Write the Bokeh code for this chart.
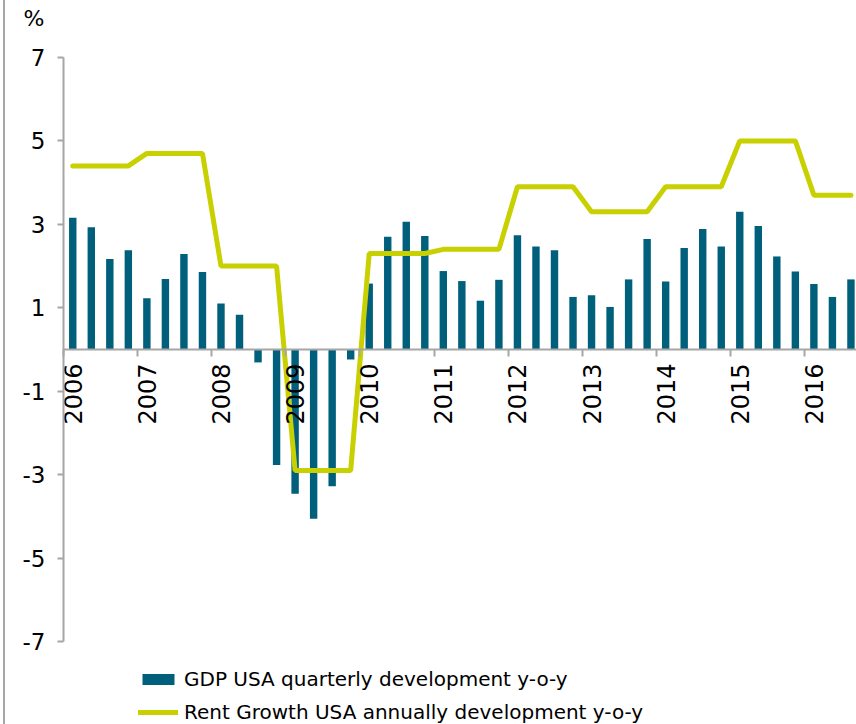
import math
from bokeh.plotting import figure
from bokeh.models import (Range1d, FixedTicker, LinearAxis, Legend, LegendItem)
from bokeh.embed import file_html
from bokeh.resources import INLINE

# ---- data (quarterly, 2006 Q1 .. 2016 Q3) ----
years = ["2006", "2007", "2008", "2009", "2010", "2011",
         "2012", "2013", "2014", "2015", "2016"]
gdp = [3.16, 2.93, 2.17, 2.38,
       1.23, 1.69, 2.29, 1.86,
       1.10, 0.83, -0.31, -2.77,
       -3.46, -4.06, -3.28, -0.24,
       1.58, 2.70, 3.06, 2.72,
       1.88, 1.64, 1.17, 1.67,
       2.74, 2.47, 2.38, 1.26,
       1.30, 1.02, 1.68, 2.65,
       1.63, 2.43, 2.89, 2.47,
       3.30, 2.96, 2.23, 1.87,
       1.57, 1.26, 1.68]
rent = [4.4, 4.4, 4.4, 4.4,
        4.7, 4.7, 4.7, 4.7,
        2.0, 2.0, 2.0, 2.0,
        -2.9, -2.9, -2.9, -2.9,
        2.3, 2.3, 2.3, 2.3,
        2.4, 2.4, 2.4, 2.4,
        3.9, 3.9, 3.9, 3.9,
        3.3, 3.3, 3.3, 3.3,
        3.9, 3.9, 3.9, 3.9,
        5.0, 5.0, 5.0, 5.0,
        3.7, 3.7, 3.7]
y_ticks = [-7, -5, -3, -1, 1, 3, 5, 7]
y_tick_labels = ["-7", "-5", "-3", "-1", "1", "3", "5", "7"]
unit_label = "%"
gdp_label = "GDP USA quarterly development y-o-y"
rent_label = "Rent Growth USA annually development y-o-y"

n = len(gdp)
xq = [i + 0.5 for i in range(n)]
year_starts = [4 * i for i in range(len(years))]
year_label_pos = [4 * i + 0.5 for i in range(len(years))]
unit_pos = 7.93  # where the "%" unit sits, just above the top tick

BAR = "#005f7a"
LINE = "#c8d000"
AXIS = "#a6a6a6"
FONT = "DejaVu Sans"

X_END = 42.8
X_START = -63 / ((856 - 63) / X_END)   # room left of the y axis for its labels

p = figure(width=856, height=724, output_backend="svg", toolbar_location=None,
           x_range=Range1d(X_START, X_END), y_range=Range1d(-8.99, 8.366),
           min_border_left=0, min_border_right=0, min_border_top=0,
           min_border_bottom=0)
p.outline_line_color = None
p.xgrid.visible = False
p.ygrid.visible = False
p.background_fill_color = None
p.border_fill_color = None
p.styles = {"background": "linear-gradient(to right, white 3px, #a6a6a6 3px, "
                          "#a6a6a6 5px, white 5px)"}

bars = p.vbar(x=xq, top=gdp, bottom=0, width=0.4, fill_color=BAR, line_color=None)
ln = p.line(x=xq, y=rent, line_width=5, line_color=LINE, line_cap="round")

# y axis at x = 0
ya = p.yaxis[0]
ya.fixed_location = 0
ya.bounds = (-7, 7)
ya.ticker = FixedTicker(ticks=y_ticks)
ya.major_label_overrides = {t: s for t, s in zip(y_ticks, y_tick_labels)}
ya.axis_line_color = AXIS
ya.axis_line_width = 2
ya.major_tick_line_color = AXIS
ya.major_tick_line_width = 2
ya.major_tick_in = 0
ya.major_tick_out = 6
ya.minor_tick_line_color = None
ya.major_label_standoff = 12
ya.major_label_text_font = FONT
ya.major_label_text_font_size = "23px"
ya.major_label_text_color = "black"

# "%" unit label, drawn as a label-only axis at x = 0
ua = LinearAxis(fixed_location=0)
ua.ticker = FixedTicker(ticks=[unit_pos])
ua.major_label_overrides = {unit_pos: unit_label}
ua.axis_line_color = None
ua.major_tick_line_color = None
ua.minor_tick_line_color = None
ua.major_tick_in = 0
ua.major_tick_out = 0
ua.major_label_standoff = 19
ua.major_label_text_font = FONT
ua.major_label_text_font_size = "22px"
ua.major_label_text_color = "black"
p.add_layout(ua, "left")

# x axis (line + year boundary ticks) at y = 0
xa = p.xaxis[0]
xa.fixed_location = 0
xa.bounds = (0, X_END)
xa.ticker = FixedTicker(ticks=year_starts)
xa.axis_line_color = AXIS
xa.axis_line_width = 2
xa.major_tick_line_color = AXIS
xa.major_tick_line_width = 2
xa.major_tick_in = 0
xa.major_tick_out = 7
xa.minor_tick_line_color = None
xa.major_label_text_font_size = "0px"
xa.major_label_text_alpha = 0

# x axis labels (years), vertical, reading bottom-to-top
la = LinearAxis(fixed_location=0)
la.ticker = FixedTicker(ticks=year_label_pos)
la.major_label_overrides = {t: s for t, s in zip(year_label_pos, years)}
la.axis_line_color = None
la.major_tick_line_color = None
la.minor_tick_line_color = None
la.major_tick_in = 0
la.major_tick_out = 6
la.major_label_standoff = 8
la.major_label_orientation = math.pi / 2
la.major_label_text_font = FONT
la.major_label_text_font_size = "24px"
la.major_label_text_color = "black"
p.add_layout(la, "below")

legend = Legend(items=[LegendItem(label=gdp_label, renderers=[bars]),
                       LegendItem(label=rent_label, renderers=[ln])],
                location=(138, 0), orientation="vertical",
                glyph_width=40, glyph_height=14, label_standoff=6,
                spacing=9, padding=0, margin=0,
                label_text_font=FONT, label_text_font_size="20px",
                label_text_color="black",
                border_line_color=None, background_fill_alpha=0)
p.add_layout(legend, "center")

open("out.html", "w").write(file_html(p, INLINE))
